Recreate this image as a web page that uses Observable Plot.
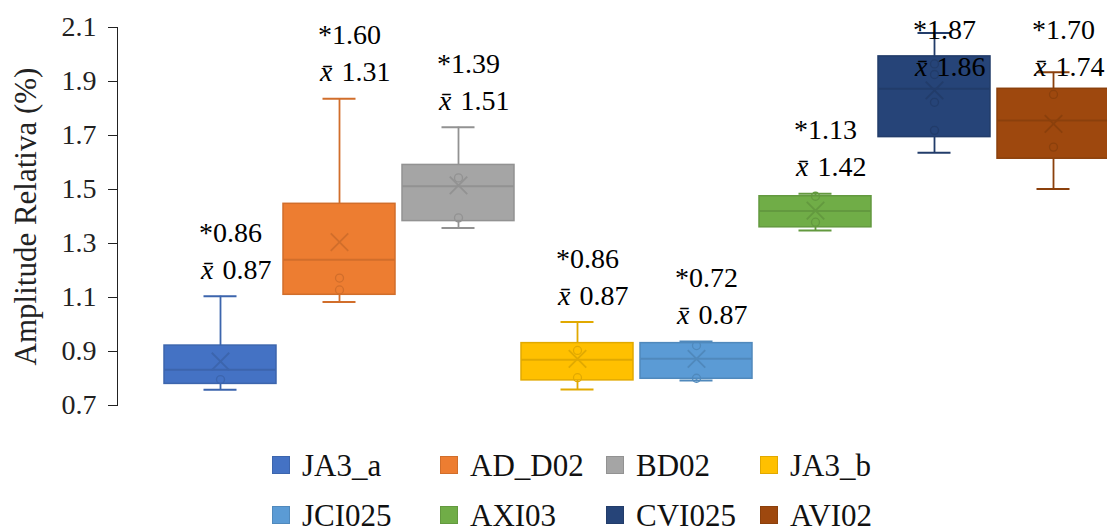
<!DOCTYPE html>
<html><head><meta charset="utf-8">
<script src="https://cdn.jsdelivr.net/npm/d3@7"></script>
<script src="https://cdn.jsdelivr.net/npm/@observablehq/plot@0.6"></script>
<style>
body{margin:0;background:#fff;}
.serif{font-family:Tinos,"Liberation Serif","Times New Roman",serif;}
#legend{display:grid;grid-template-columns:168px 166px 154px auto;grid-auto-rows:50px;margin-left:272px;padding-top:10px;}
.item{display:flex;align-items:center;font-size:31px;line-height:31px;color:#111;white-space:nowrap}
.sw{width:18px;height:18px;margin-right:12px;box-sizing:border-box;border:1px solid}
</style></head><body>
<div id="chart"></div><div id="legend" class="serif"></div>
<script>
const categories = ["JA3_a","AD_D02","BD02","JA3_b","JCI025","AXI03","CVI025","AVI02"];
const colors = ["#4472C4","#ED7D31","#A5A5A5","#FFC000","#5B9BD5","#70AD47","#264478","#9E480E"];
const whiskerLow = [0.758, 1.083, 1.357, 0.759, 0.793, 1.348, 1.636, 1.502];
const quartile1 = [0.780, 1.110, 1.383, 0.793, 0.799, 1.360, 1.694, 1.614];
const medians   = [0.832, 1.240, 1.512, 0.869, 0.873, 1.420, 1.873, 1.756];
const quartile3 = [0.922, 1.447, 1.591, 0.931, 0.931, 1.475, 1.993, 1.873];
const whiskerHigh = [1.105, 1.836, 1.731, 1.009, 0.937, 1.484, 2.080, 1.934];
const means = [0.863, 1.305, 1.515, 0.873, 0.873, 1.422, 1.867, 1.743];
const innerPoints = [[0.796],[1.172,1.128],[1.543,1.395],[0.904,0.803],[0.922,0.801],[1.475,1.379],[1.965,1.926,1.823,1.719],[1.852,1.657]];
const starLabels = ["0.86","1.60","1.39","0.86","0.72","1.13","1.87","1.70"];
const meanLabels = ["0.87","1.31","1.51","0.87","0.87","1.42","1.86","1.74"];
const yTicks = [0.7,0.9,1.1,1.3,1.5,1.7,1.9,2.1];

const FONT = "Tinos, \"Liberation Serif\", \"Times New Roman\", serif";
const dark = colors.map(c => d3.color(c).darker(0.35).formatHex());
const rows = categories.map((c,i)=>({cat:c, lo:whiskerLow[i], q1:quartile1[i], med:medians[i], q3:quartile3[i], hi:whiskerHigh[i], mean:means[i], star:starLabels[i], xbar:meanLabels[i], fill:colors[i], stroke:dark[i]}));
const pts = categories.flatMap((c,i)=>innerPoints[i].map(v=>({cat:c, v, stroke:dark[i]})));
const labelY = d => Math.min(d.hi + 0.235, 2.09);

const chart = Plot.plot({
  width: 1107, height: 430,
  marginLeft: 117, marginRight: 0, marginTop: 27, marginBottom: 25,
  style: {fontSize: "28px", fontFamily: FONT, color: "#222", background: "white"},
  x: {domain: categories, axis: null, range: [160.5, 1113.5], paddingInner: 0.058, paddingOuter: 0},
  y: {domain: [0.7, 2.1], ticks: yTicks, tickFormat: d3.format(".1f"), tickSize: 9, tickPadding: 12, line: true,
      label: "Amplitude Relativa (%)", labelAnchor: "center", labelArrow: "none", labelOffset: 104},
  color: {type: "identity"},
  marks: [
    Plot.ruleX(rows, {x: "cat", y1: "lo", y2: "q1", stroke: "stroke", strokeWidth: 1.8}),
    Plot.ruleX(rows, {x: "cat", y1: "q3", y2: "hi", stroke: "stroke", strokeWidth: 1.8}),
    Plot.tickY(rows, {x: "cat", y: "lo", stroke: "stroke", strokeWidth: 2, insetLeft: 39.5, insetRight: 39.5}),
    Plot.tickY(rows, {x: "cat", y: "hi", stroke: "stroke", strokeWidth: 2, insetLeft: 39.5, insetRight: 39.5}),
    Plot.barY(rows, {x: "cat", y1: "q1", y2: "q3", fill: "fill", stroke: "stroke", strokeWidth: 1.5}),
    Plot.tickY(rows, {x: "cat", y: "med", stroke: "stroke", strokeWidth: 2}),
    Plot.dot(pts, {x: "cat", y: "v", r: 4, stroke: "stroke", fill: "none", strokeWidth: 1.3}),
    Plot.dot(rows, {x: "cat", y: "mean", symbol: "times", r: 8, stroke: "stroke", strokeWidth: 1.8}),
    Plot.text(rows, {x: "cat", y: labelY, text: d => "*" + d.star, dx: 10, fontSize: 28, fill: "#000", lineAnchor: "middle"}),
    Plot.text(rows, {x: "cat", y: labelY, text: () => "x\u0304", dx: -7, dy: 37, fontSize: 28, fontStyle: "italic", fill: "#000", textAnchor: "end", lineAnchor: "middle"}),
    Plot.text(rows, {x: "cat", y: labelY, text: "xbar", dx: 2, dy: 37, fontSize: 28, fill: "#000", textAnchor: "start", lineAnchor: "middle"})
  ]
});
document.getElementById("chart").appendChild(chart);
chart.querySelectorAll('g[aria-label="y-axis label"] text').forEach(t => t.setAttribute("font-size", 31));

const legend = document.getElementById("legend");
categories.forEach((c,i)=>{
  const it = document.createElement("div"); it.className = "item";
  const sw = document.createElement("span"); sw.className = "sw";
  sw.style.background = colors[i]; sw.style.borderColor = dark[i];
  it.appendChild(sw); it.appendChild(document.createTextNode(c));
  legend.appendChild(it);
});
</script></body></html>
